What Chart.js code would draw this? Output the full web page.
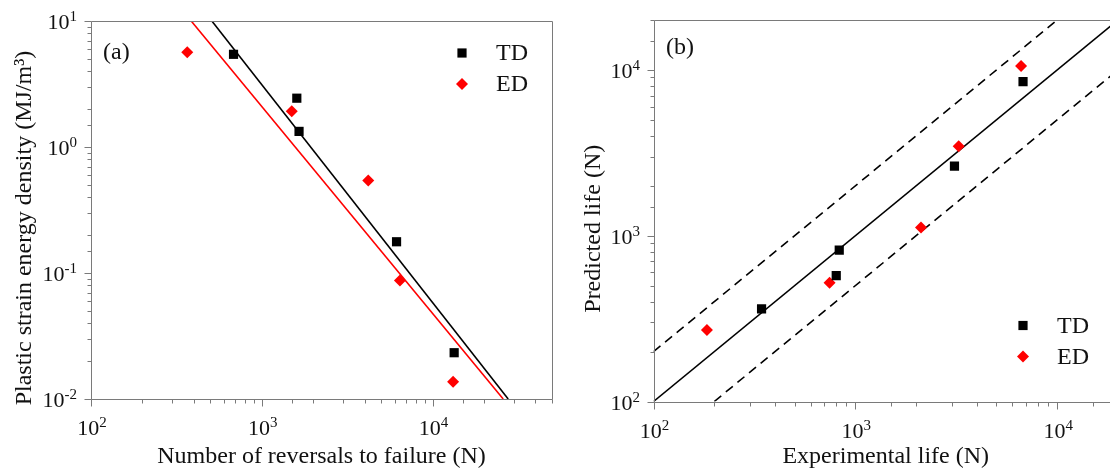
<!DOCTYPE html>
<html>
<head>
<meta charset="utf-8">
<script src="https://cdn.jsdelivr.net/npm/chart.js@4.4.1/dist/chart.umd.min.js"></script>
<style>
  html, body { margin: 0; padding: 0; background: #fff; overflow: hidden; }
  #wrap { position: relative; width: 1110px; height: 473px; overflow: hidden; background: #fff; }
  #chartA { position: absolute; left: 0; top: 0; }
  #chartB { position: absolute; left: 560px; top: 0; }
</style>
</head>
<body>
<div id="wrap">
  <canvas id="chartA" width="560" height="473"></canvas>
  <canvas id="chartB" width="600" height="473"></canvas>
</div>
<script>
// (a) plastic strain energy density vs reversals to failure
const tdReversals = [683, 1603, 1652, 6150, 13370];
const tdEnergy = [5.44, 2.44, 1.33, 0.177, 0.0233];
const edReversals = [366, 1497, 4198, 6440, 13180];
const edEnergy = [5.65, 1.92, 0.542, 0.0873, 0.0137];

// power-law fits, from the top of the axis to the bottom
const tdFitX = [510, 27700];
const tdFitY = [10, 0.01];
const edFitX = [386, 25900];
const edFitY = [10, 0.01];

// (b) predicted vs experimental life
const tdExperimental = [343, 804, 832, 3097, 6770];
const tdPredicted = [362, 575, 818, 2630, 8490];
const edExperimental = [184, 745, 2114, 3250, 6620];
const edPredicted = [270, 520, 1120, 3460, 10540];

// 1:1 line and factor-of-two band
const perfectX = [100, 20000];
const perfectY = [100, 20000];
const upperBandX = [100, 10000];
const upperBandY = [200, 20000];
const lowerBandX = [200, 20000];
const lowerBandY = [100, 10000];

// labelled ticks
const reversalTicks = [1e2, 1e3, 1e4];
const energyTicks = [1e-2, 1e-1, 1e0, 1e1];
const lifeTicks = [1e2, 1e3, 1e4];

const SERIF = 'Liberation Serif';
const TD_COLOR = '#000000';
const ED_COLOR = '#ff0000';
const TEXT_COLOR = '#111';

Chart.defaults.font.family = SERIF;
Chart.defaults.color = TEXT_COLOR;

function isDecade(value) {
    const l = Math.log10(value);
    return Math.abs(l - Math.round(l)) < 1e-6;
}

const toPoints = (xs, ys) => xs.map((x, i) => ({ x: x, y: ys[i] }));

// "10" with a raised exponent; baseline at y, anchored centre or right
function drawPower(ctx, value, x, y, align) {
    const exp = String(Math.round(Math.log10(value)));
    ctx.font = '22px "' + SERIF + '"';
    const baseW = ctx.measureText('10').width;
    ctx.font = '15px "' + SERIF + '"';
    const expW = ctx.measureText(exp).width;
    const start = align === 'center' ? x - (baseW + expW) / 2 : x - baseW - expW;
    ctx.font = '22px "' + SERIF + '"';
    ctx.fillText('10', start, y);
    ctx.font = '15px "' + SERIF + '"';
    ctx.fillText(exp, start + baseW, y - 8);
}

// frame box, outward tick marks (long on decades) and decade labels
const axisFrame = {
    id: 'axisFrame',
    afterDatasetsDraw(chart, args, opts) {
        const { ctx, chartArea: area, scales } = chart;
        const left = Math.round(area.left) + 0.5;
        const top = Math.round(area.top) + 0.5;
        const right = Math.round(area.right) + 0.5;
        const bottom = Math.round(area.bottom) + 0.5;
        ctx.save();
        ctx.strokeStyle = '#7a7a7a';
        ctx.lineWidth = 1;
        ctx.beginPath();
        ctx.rect(left, top, right - left, bottom - top);
        scales.x.ticks.forEach(t => {
            const px = Math.round(scales.x.getPixelForValue(t.value)) + 0.5;
            ctx.moveTo(px, bottom);
            ctx.lineTo(px, bottom + (isDecade(t.value) ? 7 : 4));
        });
        scales.y.ticks.forEach(t => {
            const py = Math.round(scales.y.getPixelForValue(t.value)) + 0.5;
            ctx.moveTo(left, py);
            ctx.lineTo(left - (isDecade(t.value) ? 7 : 4), py);
        });
        ctx.stroke();

        ctx.fillStyle = TEXT_COLOR;
        ctx.textBaseline = 'alphabetic';
        ctx.textAlign = 'left';
        opts.xLabels.forEach(v => {
            drawPower(ctx, v, scales.x.getPixelForValue(v) + 1, area.bottom + 36, 'center');
        });
        opts.yLabels.forEach(v => {
            drawPower(ctx, v, area.left - opts.yGap, scales.y.getPixelForValue(v) + 8, 'right');
        });
        ctx.restore();
    }
};

// panel letter and TD / ED key inside the plot
const panelKey = {
    id: 'panelKey',
    afterDraw(chart, args, opts) {
        const { ctx, chartArea: area } = chart;
        ctx.save();
        ctx.font = '24px "' + SERIF + '"';
        ctx.fillStyle = TEXT_COLOR;
        ctx.textBaseline = 'middle';
        ctx.textAlign = 'left';
        ctx.fillText(opts.letter, area.left + opts.letterDx, area.top + opts.letterDy);

        const keyX = area.left + opts.keyDx;
        const entries = [
            { text: 'TD', color: TD_COLOR, style: 'rect', radius: 6.5 },
            { text: 'ED', color: ED_COLOR, style: 'rectRot', radius: 6 }
        ];
        entries.forEach((e, i) => {
            const y = (opts.fromBottom ? area.bottom : area.top) + opts.keyDy + i * 31;
            ctx.fillStyle = e.color;
            Chart.helpers.drawPoint(ctx, { pointStyle: e.style, radius: e.radius, rotation: 0, borderWidth: 0 }, keyX, y);
            ctx.fillStyle = TEXT_COLOR;
            ctx.fillText(e.text, keyX + 34, y + 1);
        });
        ctx.restore();
    }
};

function logAxis(min, max, title, size, titlePad, horizontal) {
    return {
        type: 'logarithmic',
        min: min,
        max: max,
        grid: { display: false, drawTicks: false },
        border: { display: false },
        ticks: { display: false, autoSkip: false },
        title: {
            display: true,
            text: title,
            color: TEXT_COLOR,
            font: { size: 24 },
            padding: horizontal ? { top: 0, bottom: titlePad } : { top: titlePad, bottom: 0 }
        },
        afterFit: scale => {
            if (horizontal) scale.height = size; else scale.width = size;
        }
    };
}

function scatterSet(label, xs, ys, color, style, radius) {
    return {
        label: label,
        data: toPoints(xs, ys),
        pointStyle: style,
        pointRadius: radius,
        pointBackgroundColor: color,
        pointBorderWidth: 0,
        showLine: false,
        order: 1
    };
}

function lineSet(label, xs, ys, color, dash) {
    return {
        label: label,
        data: toPoints(xs, ys),
        showLine: true,
        borderColor: color,
        borderWidth: 1.6,
        borderDash: dash || [],
        pointRadius: 0,
        order: 2
    };
}

const NBSP = '\u00A0';

new Chart(document.getElementById('chartA'), {
    type: 'scatter',
    data: {
        datasets: [
            lineSet('TD fit', tdFitX, tdFitY, TD_COLOR),
            lineSet('ED fit', edFitX, edFitY, ED_COLOR),
            scatterSet('TD', tdReversals, tdEnergy, TD_COLOR, 'rect', 6.5),
            scatterSet('ED', edReversals, edEnergy, ED_COLOR, 'rectRot', 6)
        ]
    },
    options: {
        responsive: false,
        animation: false,
        devicePixelRatio: 1,
        layout: { padding: { left: 0, top: 21, right: 8, bottom: 0 } },
        scales: {
            x: logAxis(100, 50000, 'Number of reversals to failure (N)', 74, 2, true),
            y: logAxis(0.01, 10, 'Plastic strain energy density (MJ/m\u00B3)' + NBSP.repeat(6), 91, 10, false)
        },
        plugins: {
            legend: { display: false },
            tooltip: { enabled: false },
            axisFrame: { xLabels: reversalTicks, yLabels: energyTicks, yGap: 14 },
            panelKey: { letter: '(a)', letterDx: 12, letterDy: 32, keyDx: 371, keyDy: 32, fromBottom: false }
        }
    },
    plugins: [axisFrame, panelKey]
});

new Chart(document.getElementById('chartB'), {
    type: 'scatter',
    data: {
        datasets: [
            lineSet('1:1', perfectX, perfectY, '#000000'),
            lineSet('x2', upperBandX, upperBandY, '#000000', [9, 6]),
            lineSet('x0.5', lowerBandX, lowerBandY, '#000000', [9, 6]),
            scatterSet('TD', tdExperimental, tdPredicted, TD_COLOR, 'rect', 6.5),
            scatterSet('ED', edExperimental, edPredicted, ED_COLOR, 'rectRot', 6)
        ]
    },
    options: {
        responsive: false,
        animation: false,
        devicePixelRatio: 1,
        layout: { padding: { left: 0, top: 20, right: 42, bottom: 0 } },
        scales: {
            x: logAxis(100, 20000, 'Experimental life (N)', 71.5, 2, true),
            y: logAxis(100, 20000, 'Predicted life (N)' + NBSP.repeat(6), 93.5, 19, false)
        },
        plugins: {
            legend: { display: false },
            tooltip: { enabled: false },
            axisFrame: { xLabels: lifeTicks, yLabels: lifeTicks, yGap: 13.5 },
            panelKey: { letter: '(b)', letterDx: 12.5, letterDy: 28, keyDx: 369.5, keyDy: -76, fromBottom: true }
        }
    },
    plugins: [axisFrame, panelKey]
});
</script>
</body>
</html>
